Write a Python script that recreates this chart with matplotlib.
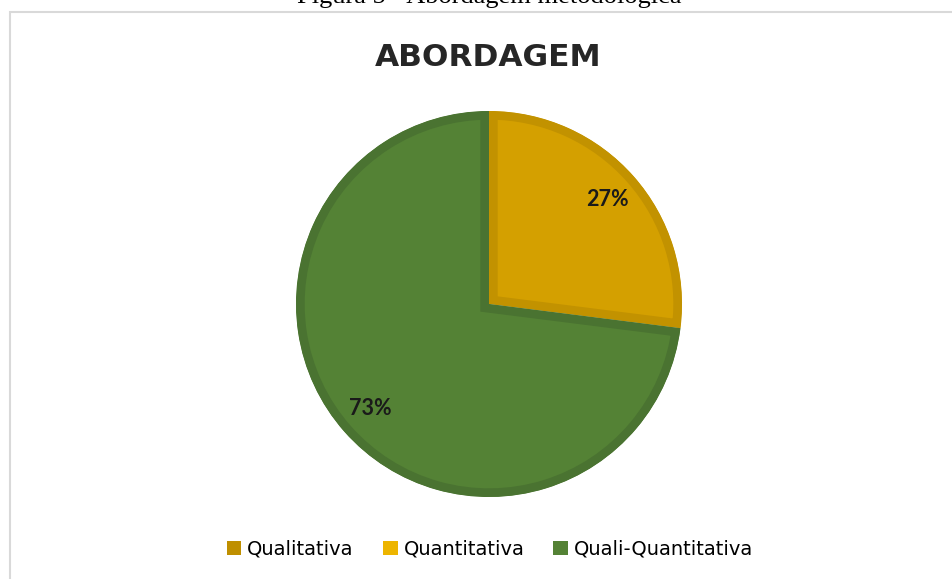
import matplotlib
matplotlib.use("Agg")
import matplotlib.pyplot as plt
from matplotlib.patches import Rectangle

categories = ["Qualitativa", "Quantitativa", "Quali-Quantitativa"]
values = [0, 27, 73]
fill_colors = ["#BF8F00", "#D4A000", "#548235"]
edge_colors = ["#A87E00", "#C29200", "#4A7331"]
legend_colors = ["#BF8F00", "#EDB500", "#548235"]
chart_title = "ABORDAGEM"
figure_caption = "Figura 5 - Abordagem metodológica"

W, H = 952, 579
fig = plt.figure(figsize=(W / 100, H / 100), dpi=100)
fig.patch.set_facecolor("white")

# chart area frame
fig.patches.append(Rectangle((10 / W, -0.05), 1.0, (H - 12) / H + 0.05,
                             transform=fig.transFigure, fill=False,
                             edgecolor="#D9D9D9", linewidth=1.5))

ax = fig.add_axes([0, 0, 1, 1])

wedges, texts, autotexts = ax.pie(
    values, colors=fill_colors, startangle=90, counterclock=False,
    center=(489, H - 304), radius=193, frame=True,
    autopct=lambda p: f"{p:.0f}%" if p > 0 else "", pctdistance=0.82,
    textprops=dict(fontsize=15.5, fontweight="bold", family="Lato", color="#1a1a1a"))
ax.set_xlim(0, W)
ax.set_ylim(0, H)
ax.set_aspect("equal")
ax.axis("off")

for w, ec in zip(wedges, edge_colors):
    w.set_edgecolor(ec)
    w.set_linewidth(12.5)
    w.set_clip_on(True)
    w.set_clip_path(w)

fig.text(488 / W, 1 - 57 / H, chart_title, ha="center", va="center",
         fontsize=22.5, fontweight="bold", family="DejaVu Sans", color="#262626")
fig.text(489 / W, 1 + 3 / H, figure_caption, ha="center", va="center",
         fontsize=19, family="Liberation Serif", color="black")

handles = [Rectangle((0, 0), 1, 1, facecolor=c, edgecolor="none") for c in legend_colors]
fig.legend(handles, categories, loc="center", bbox_to_anchor=(490 / W, 1 - 549 / H),
           ncol=3, frameon=False, handlelength=0.75, handleheight=0.75,
           handletextpad=0.3, columnspacing=1.5, prop=dict(family="DejaVu Sans", size=14))

fig.savefig("out.png", dpi=100, facecolor="white")
